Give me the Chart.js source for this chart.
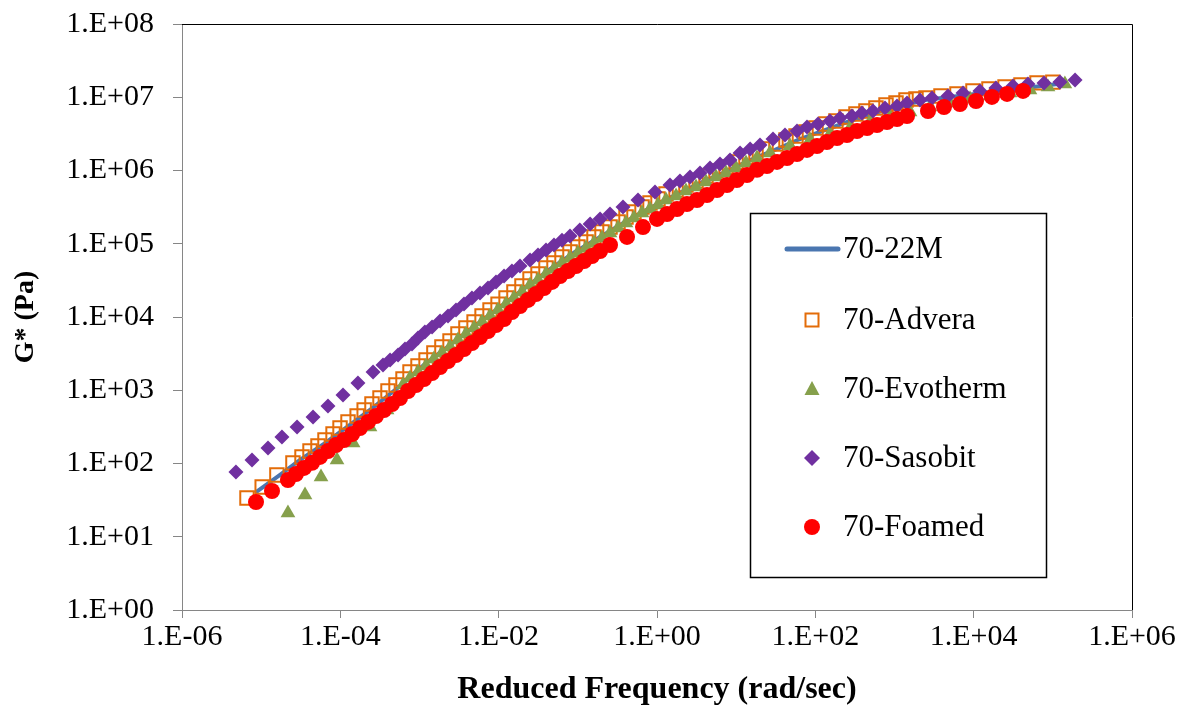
<!DOCTYPE html>
<html>
<head>
<meta charset="utf-8">
<script src="https://cdn.jsdelivr.net/npm/chart.js@4.4.0/dist/chart.umd.min.js"></script>
<style>
  html, body { margin: 0; padding: 0; background: #fff; }
  #wrap { width: 1187px; height: 710px; }
  .preload { font-family: 'Liberation Serif'; position: absolute; left: -9999px; top: 0; }
</style>
</head>
<body>
<div class="preload">1.E+08 <b>G* (Pa)</b></div>
<div id="wrap"><canvas id="chart" width="1187" height="710"></canvas></div>
<script>
// reduced frequency (rad/s), |G*| (Pa)
const m22M = [[8.36e-6,39.6],[1.73e-5,69.7],[3.10e-5,112],[6.40e-5,190],[1.32e-4,336],[2.74e-4,610],[5.67e-4,1143],[1.17e-3,2280],[2.43e-3,4150],[5.02e-3,7540],[1.04e-2,1.37e4],[2.15e-2,2.49e4],[4.45e-2,4.52e4],[9.20e-2,7.71e4],[0.191,1.24e5],[0.394,1.98e5],[0.816,3.08e5],[1.69,4.63e5],[3.49,6.75e5],[7.22,9.54e5],[15.0,1.39e6],[30.9,1.91e6],[64.0,2.69e6],[132,3.57e6],[274,4.74e6],[567,6.10e6],[1173,7.60e6],[2427,9.17e6],[5023,1.01e7],[1.04e4,1.11e7],[2.15e4,1.22e7],[4.45e4,1.34e7],[9.20e4,1.47e7],[1.42e5,1.57e7]];

const advera = [[6.62e-6,33.8],[1.03e-5,47.8],[1.58e-5,69.7],[2.52e-5,102],[3.28e-5,123],[4.14e-5,148],[5.22e-5,173],[6.40e-5,209],[8.09e-5,253],[9.91e-5,305],[1.25e-4,369],[1.63e-4,445],[2.00e-4,537],[2.51e-4,649],[3.17e-4,784],[4.00e-4,977],[5.05e-4,1180],[6.19e-4,1425],[7.59e-4,1774],[9.57e-4,2143],[1.21e-3,2588],[1.52e-3,3227],[1.92e-3,3894],[2.43e-3,4699],[3.06e-3,5861],[3.86e-3,7080],[4.89e-3,8551],[6.17e-3,1.03e4],[7.78e-3,1.25e4],[9.82e-3,1.50e4],[1.24e-2,1.82e4],[1.56e-2,2.19e4],[1.97e-2,2.65e4],[2.49e-2,3.30e4],[3.14e-2,3.86e4],[3.96e-2,4.67e4],[5.00e-2,5.46e4],[6.31e-2,6.59e4],[7.96e-2,7.71e4],[0.100,9.03e4],[0.127,1.06e5],[0.160,1.24e5],[0.202,1.45e5],[0.255,1.69e5],[0.322,1.98e5],[0.406,2.32e5],[0.512,2.71e5],[0.647,3.18e5],[0.816,3.60e5],[1.03,4.08e5],[1.30,4.78e5],[1.74,5.42e5],[2.32,6.34e5],[3.11,7.19e5],[4.16,8.41e5],[5.56,9.84e5],[7.44,1.12e6],[9.95,1.31e6],[13.3,1.53e6],[17.8,1.73e6],[23.8,1.97e6],[31.8,2.30e6],[42.6,2.61e6],[57.0,2.96e6],[76.2,3.36e6],[102,3.80e6],[136,4.31e6],[182,4.74e6],[244,5.37e6],[326,5.90e6],[436,6.49e6],[583,7.13e6],[781,7.83e6],[1045,8.36e6],[1397,9.17e6],[1868,9.46e6],[2500,9.77e6],[3865,1.04e7],[6152,1.11e7],[9800,1.22e7],[1.56e4,1.30e7],[2.49e4,1.38e7],[3.96e4,1.47e7],[6.31e4,1.57e7],[1.00e5,1.61e7]];

const evotherm = [[2.18e-5,21.1],[3.58e-5,37.2],[5.70e-5,65.4],[9.08e-5,112],[1.45e-4,190],[2.37e-4,315],[3.89e-4,537],[6.19e-4,1180],[7.59e-4,1469],[9.57e-4,1774],[1.21e-3,2143],[1.52e-3,2672],[1.92e-3,3227],[2.43e-3,3894],[3.06e-3,4853],[3.86e-3,5861],[4.89e-3,7080],[6.17e-3,8551],[7.78e-3,1.03e4],[9.82e-3,1.25e4],[1.24e-2,1.50e4],[1.56e-2,1.82e4],[1.97e-2,2.19e4],[2.49e-2,2.74e4],[3.14e-2,3.20e4],[3.96e-2,3.86e4],[5.00e-2,4.52e4],[6.31e-2,5.46e4],[7.96e-2,6.38e4],[0.100,7.48e4],[0.127,8.75e4],[0.160,1.02e5],[0.202,1.20e5],[0.255,1.40e5],[0.322,1.64e5],[0.406,1.92e5],[0.512,2.25e5],[0.647,2.63e5],[0.816,2.98e5],[1.03,3.38e5],[1.30,3.96e5],[1.74,4.49e5],[2.32,5.25e5],[3.11,5.96e5],[4.16,6.97e5],[5.56,8.15e5],[7.44,9.25e5],[9.95,1.08e6],[13.3,1.27e6],[18.3,1.48e6],[26.7,1.73e6],[47.9,2.16e6],[85.7,2.61e6],[153,3.15e6],[274,3.80e6],[490,4.59e6],[877,5.37e6],[1570,6.29e6],[2806,7.36e6],[5023,8.36e6],[8990,9.46e6],[1.61e4,1.04e7],[2.88e4,1.14e7],[5.14e4,1.26e7],[8.69e4,1.38e7],[1.42e5,1.52e7]];

const sasobit = [[4.8e-6,76.6],[7.66e-6,112],[1.22e-5,163],[1.83e-5,230],[2.84e-5,315],[4.52e-5,431],[6.98e-5,610],[1.08e-4,861],[1.67e-4,1256],[2.59e-4,1774],[3.46e-4,2213],[4.25e-4,2588],[5.36e-4,3027],[6.56e-4,3656],[8.04e-4,4276],[9.57e-4,5165],[1.17e-3,6240],[1.44e-3,7300],[1.82e-3,8810],[2.29e-3,1.03e4],[2.89e-3,1.25e4],[3.65e-3,1.50e4],[4.60e-3,1.82e4],[5.81e-3,2.13e4],[7.33e-3,2.49e4],[9.25e-3,3.01e4],[1.17e-2,3.63e4],[1.47e-2,4.25e4],[1.86e-2,4.97e4],[2.49e-2,6.00e4],[3.14e-2,7.02e4],[3.96e-2,8.22e4],[5.00e-2,9.61e4],[6.31e-2,1.12e5],[7.96e-2,1.28e5],[0.106,1.54e5],[0.143,1.86e5],[0.191,2.18e5],[0.255,2.55e5],[0.372,3.18e5],[0.575,3.96e5],[0.944,5.09e5],[1.46,6.34e5],[1.95,7.19e5],[2.61,8.15e5],[3.49,9.25e5],[4.67,1.08e6],[6.25,1.23e6],[8.36,1.39e6],[11.2,1.73e6],[15.0,1.97e6],[20.0,2.23e6],[29.2,2.69e6],[41.4,3.05e6],[58.7,3.46e6],[78.5,3.93e6],[108,4.31e6],[153,4.74e6],[205,5.21e6],[290,5.55e6],[388,6.10e6],[535,6.49e6],[759,7.13e6],[1075,7.60e6],[1438,8.36e6],[2099,9.17e6],[2976,9.77e6],[4742,1.04e7],[7328,1.14e7],[1.20e4,1.22e7],[1.91e4,1.34e7],[3.14e4,1.42e7],[4.85e4,1.52e7],[7.73e4,1.57e7],[1.23e5,1.61e7],[1.91e5,1.72e7]];

const foamed = [[8.61e-6,29.8],[1.37e-5,42.1],[2.18e-5,59.5],[2.75e-5,71.9],[3.48e-5,86.9],[4.39e-5,102],[5.53e-5,123],[6.98e-5,148],[8.81e-5,179],[1.11e-4,209],[1.41e-4,253],[1.77e-4,305],[2.24e-4,369],[2.82e-4,445],[3.56e-4,537],[4.50e-4,649],[5.67e-4,784],[7.16e-4,977],[9.03e-4,1180],[1.14e-3,1425],[1.44e-3,1718],[1.82e-3,2075],[2.29e-3,2506],[2.89e-3,3027],[3.65e-3,3656],[4.60e-3,4416],[5.81e-3,5333],[7.33e-3,6442],[9.25e-3,7780],[1.17e-2,9397],[1.47e-2,1.17e4],[1.86e-2,1.41e4],[2.35e-2,1.71e4],[2.96e-2,2.06e4],[3.74e-2,2.49e4],[4.72e-2,3.01e4],[5.96e-2,3.63e4],[7.51e-2,4.25e4],[9.48e-2,4.97e4],[0.120,5.82e4],[0.151,6.81e4],[0.191,7.96e4],[0.255,9.61e4],[0.418,1.24e5],[0.665,1.69e5],[1.00,2.18e5],[1.34,2.55e5],[1.79,2.98e5],[2.39,3.49e5],[3.20,3.96e5],[4.28,4.63e5],[5.73,5.42e5],[7.66,6.34e5],[10.2,7.42e5],[13.7,8.68e5],[18.3,1.02e6],[24.5,1.15e6],[32.8,1.31e6],[43.9,1.48e6],[58.7,1.68e6],[78.5,1.91e6],[105,2.16e6],[140,2.45e6],[188,2.78e6],[251,3.05e6],[336,3.46e6],[450,3.80e6],[601,4.18e6],[804,4.59e6],[1075,5.05e6],[1438,5.55e6],[2649,6.49e6],[4217,7.36e6],[6714,8.09e6],[1.07e4,8.89e6],[1.70e4,1.01e7],[2.64e4,1.11e7],[4.20e4,1.22e7]];

const xTicks = [1e-6, 1e-4, 1e-2, 1, 1e2, 1e4, 1e6];
const yTicks = [1, 1e1, 1e2, 1e3, 1e4, 1e5, 1e6, 1e7, 1e8];

const FONT = "'Liberation Serif', 'Times New Roman', Times, serif";
const AXIS_GRAY = "#868686";

function expLabel(v) {
  const e = Math.round(Math.log10(v));
  return "1.E" + (e < 0 ? "-" : "+") + String(Math.abs(e)).padStart(2, "0");
}

const toPts = arr => arr.map(p => ({ x: p[0], y: p[1] }));

// keep the plot area where the layout padding puts it
function noEdgePad(s) {
  s.paddingTop = 0; s.paddingBottom = 0; s.paddingLeft = 0; s.paddingRight = 0;
}

// black line on top and right of the plot area
const frame = {
  id: "frame",
  afterDraw(chart) {
    const { ctx, chartArea: a } = chart;
    ctx.save();
    ctx.strokeStyle = "#000";
    ctx.lineWidth = 1;
    ctx.beginPath();
    ctx.moveTo(a.left, a.top + 0.5);
    ctx.lineTo(a.right + 0.5, a.top + 0.5);
    ctx.lineTo(a.right + 0.5, a.bottom);
    ctx.stroke();
    ctx.restore();
  }
};

function marker(ctx, ds, x, y) {
  ctx.save();
  ctx.fillStyle = ds.backgroundColor;
  ctx.strokeStyle = ds.borderColor;
  ctx.lineWidth = ds.borderWidth;
  ctx.beginPath();
  if (ds.pointStyle === "rect") {
    ctx.strokeRect(x - 6.5, y - 6.5, 13, 13);
  } else if (ds.pointStyle === "triangle") {
    ctx.moveTo(x, y - 8); ctx.lineTo(x + 7.5, y + 6); ctx.lineTo(x - 7.5, y + 6); ctx.closePath(); ctx.fill();
  } else if (ds.pointStyle === "rectRot") {
    ctx.moveTo(x, y - 8); ctx.lineTo(x + 8, y); ctx.lineTo(x, y + 8); ctx.lineTo(x - 8, y); ctx.closePath(); ctx.fill();
  } else {
    ctx.arc(x, y, 8, 0, Math.PI * 2); ctx.fill();
  }
  ctx.restore();
}

// boxed legend inside the plot area
const boxLegend = {
  id: "boxLegend",
  afterDraw(chart) {
    const { ctx, chartArea: a } = chart;
    const left = a.left + 568, top = a.top + 189, w = 296, h = 364;
    const rows = [36, 107, 176, 245, 314];
    ctx.save();
    ctx.fillStyle = "#fff";
    ctx.fillRect(left, top, w, h);
    ctx.strokeStyle = "#000";
    ctx.lineWidth = 1.5;
    ctx.strokeRect(left + 0.5, top + 0.5, w, h);
    ctx.font = "31px " + FONT;
    ctx.textBaseline = "middle";
    chart.data.datasets.forEach((ds, i) => {
      const y = top + rows[i];
      if (ds.showLine) {
        ctx.save();
        ctx.strokeStyle = ds.borderColor;
        ctx.lineWidth = 5;
        ctx.lineCap = "round";
        ctx.beginPath();
        ctx.moveTo(left + 37, y);
        ctx.lineTo(left + 88, y);
        ctx.stroke();
        ctx.restore();
      } else {
        marker(ctx, ds, left + 62, y);
      }
      ctx.fillStyle = "#000";
      ctx.fillText(ds.label, left + 93, y + 1);
    });
    ctx.restore();
  }
};

function draw() {
  new Chart(document.getElementById("chart"), {
    type: "scatter",
    data: {
      datasets: [
        { label: "70-22M", data: toPts(m22M), showLine: true, pointRadius: 0, borderColor: "#4A76B0", backgroundColor: "#4A76B0", borderWidth: 4, order: 5 },
        { label: "70-Advera", data: toPts(advera), pointStyle: "rect", pointRadius: 9.5, borderColor: "#E36C09", backgroundColor: "rgba(0,0,0,0)", borderWidth: 2, order: 4 },
        { label: "70-Evotherm", data: toPts(evotherm), pointStyle: "triangle", pointRadius: 8.5, borderColor: "#86A04C", backgroundColor: "#86A04C", borderWidth: 0, order: 3 },
        { label: "70-Sasobit", data: toPts(sasobit), pointStyle: "rectRot", pointRadius: 7.5, borderColor: "#7030A0", backgroundColor: "#7030A0", borderWidth: 0, order: 2 },
        { label: "70-Foamed", data: toPts(foamed), pointStyle: "circle", pointRadius: 8, borderColor: "#FF0000", backgroundColor: "#FF0000", borderWidth: 0, order: 1 }
      ]
    },
    options: {
      responsive: false,
      animation: false,
      events: [],
      layout: { padding: { left: 0, top: 24, right: 55, bottom: 0 } },
      plugins: { legend: { display: false }, tooltip: { enabled: false } },
      scales: {
        x: {
          type: "logarithmic",
          min: 1e-6,
          max: 1e6,
          afterBuildTicks: s => { s.ticks = xTicks.map(v => ({ value: v })); },
          afterFit: s => { s.height = 100; noEdgePad(s); },
          ticks: { callback: v => expLabel(v), color: "#000", font: { family: FONT, size: 30 }, padding: 1, maxRotation: 0, autoSkip: false },
          grid: { drawOnChartArea: false, drawTicks: true, tickLength: 8, color: AXIS_GRAY },
          border: { color: AXIS_GRAY, width: 1 },
          title: { display: true, text: "Reduced Frequency (rad/sec)", color: "#000", font: { family: FONT, size: 32, weight: "bold" }, padding: { top: 0, bottom: 1 } }
        },
        y: {
          type: "logarithmic",
          min: 1,
          max: 1e8,
          afterBuildTicks: s => { s.ticks = yTicks.map(v => ({ value: v })); },
          afterFit: s => { s.width = 182; noEdgePad(s); },
          ticks: { callback: v => expLabel(v), color: "#000", font: { family: FONT, size: 30 }, padding: 19, autoSkip: false },
          grid: { drawOnChartArea: false, drawTicks: true, tickLength: 9, color: AXIS_GRAY },
          border: { color: AXIS_GRAY, width: 1 },
          title: { display: true, text: "G* (Pa)", color: "#000", font: { family: FONT, size: 28, weight: "bold" }, padding: { top: 9, bottom: 0 } }
        }
      }
    },
    plugins: [frame, boxLegend]
  });
}

Promise.all([
  document.fonts.load("30px 'Liberation Serif'"),
  document.fonts.load("bold 32px 'Liberation Serif'")
]).then(draw, draw);
</script>
</body>
</html>
